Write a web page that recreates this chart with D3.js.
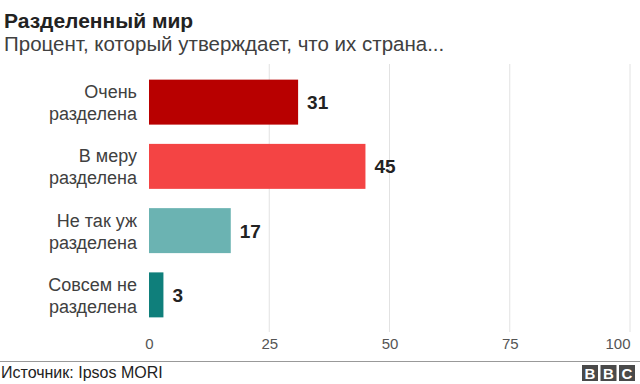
<!DOCTYPE html>
<html>
<head>
<meta charset="utf-8">
<script src="https://cdn.jsdelivr.net/npm/d3@7"></script>
<style>
  body { margin: 0; background: #fff; }
  svg { display: block; font-family: "Liberation Sans", Arial, Helvetica, sans-serif; }
</style>
</head>
<body>
<svg id="chart" width="640" height="384"></svg>
<script>

// data
var categories = [
    ["Очень", "разделена"],
    ["В меру", "разделена"],
    ["Не так уж", "разделена"],
    ["Совсем не", "разделена"]
];
var values = [31, 45, 17, 3];
var barColors = ["#b80000", "#f44444", "#6bb3b2", "#0f7f7b"];
var ticks = [0, 25, 50, 75, 100];

var svg = d3.select("#chart");
var width = 640, height = 384;

// scales
var x = d3.scaleLinear().domain([0, 100]).range([149, 630]);
var y = d3.scaleBand()
    .domain(d3.range(values.length))
    .range([70, 327])
    .paddingInner(0.3)
    .paddingOuter(0.15);

// title
svg.append("text")
    .attr("x", 4).attr("y", 28)
    .attr("font-size", 21).attr("font-weight", "bold")
    .attr("fill", "#222")
    .text("Разделенный мир");

svg.append("text")
    .attr("x", 4).attr("y", 51)
    .attr("font-size", 20.5)
    .attr("fill", "#404040")
    .text("Процент, который утверждает, что их страна...");

// tick labels via axis
var axis = d3.axisBottom(x).tickValues(ticks).tickSize(0).tickPadding(0);
var g = svg.append("g").attr("transform", "translate(0,349)").call(axis);
g.select(".domain").remove();
g.selectAll("text")
    .attr("dy", 0)
    .attr("font-size", 15)
    .attr("font-family", "Liberation Sans, Arial, sans-serif")
    .attr("fill", "#555")
    .attr("text-anchor", function (d) { return d === 100 ? "end" : "middle"; });

// gridlines
svg.append("g").selectAll("line")
    .data(ticks.filter(function (d) { return d > 0; }))
    .join("line")
    .attr("x1", function (d) { return x(d); })
    .attr("x2", function (d) { return x(d); })
    .attr("y1", 64).attr("y2", 332)
    .attr("stroke", "#e2e2e2").attr("stroke-width", 1);

// bars
svg.append("g").selectAll("rect")
    .data(values)
    .join("rect")
    .attr("x", x(0))
    .attr("y", function (d, i) { return y(i); })
    .attr("width", function (d) { return x(d) - x(0); })
    .attr("height", y.bandwidth())
    .attr("fill", function (d, i) { return barColors[i]; });

// value labels
svg.append("g").selectAll("text")
    .data(values)
    .join("text")
    .attr("x", function (d) { return x(d) + 9; })
    .attr("y", function (d, i) { return y(i) + y.bandwidth() / 2 + 7; })
    .attr("font-size", 19).attr("font-weight", "bold")
    .attr("fill", "#222")
    .text(function (d) { return d; });

// category labels
var labels = svg.append("g").selectAll("text")
    .data(categories)
    .join("text")
    .attr("text-anchor", "end")
    .attr("font-size", 18)
    .attr("fill", "#404040");

labels.each(function (d, i) {
    var cy = y(i) + y.bandwidth() / 2;
    var t = d3.select(this);
    t.append("tspan").attr("x", 137).attr("y", cy - 4).text(d[0]);
    t.append("tspan").attr("x", 137).attr("y", cy + 18).text(d[1]);
});

// footer
svg.append("line")
    .attr("x1", 0).attr("x2", width)
    .attr("y1", 361.5).attr("y2", 361.5)
    .attr("stroke", "#999").attr("stroke-width", 1);

svg.append("text")
    .attr("x", 1).attr("y", 378)
    .attr("font-size", 16)
    .attr("fill", "#222")
    .text("Источник: Ipsos MORI");

// BBC blocks
var letters = ["B", "B", "C"];
var logo = svg.append("g").selectAll("g")
    .data(letters)
    .join("g")
    .attr("transform", function (d, i) { return "translate(" + (582 + i * 18.5) + ",365)"; });
logo.append("rect")
    .attr("width", 16).attr("height", 16)
    .attr("fill", "#4a4a4a");
logo.append("text")
    .attr("x", 8).attr("y", 13.5)
    .attr("text-anchor", "middle")
    .attr("font-size", 15).attr("font-weight", "bold")
    .attr("fill", "#fff")
    .text(function (d) { return d; });

</script>
</body>
</html>
